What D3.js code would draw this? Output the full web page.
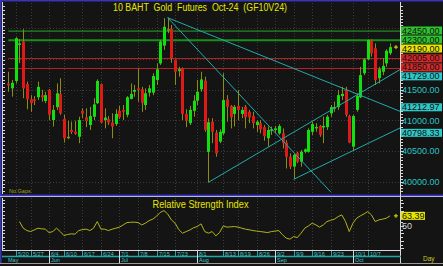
<!DOCTYPE html>
<html>
<head>
<meta charset="utf-8">
<script src="https://cdn.jsdelivr.net/npm/d3@7"></script>
<style>
html, body { margin: 0; padding: 0; background: #141414; }
svg { display: block; font-family: "Liberation Sans", Arial, sans-serif; }
</style>
</head>
<body>
<div id="chart"></div>
<script>
// daily candles, 16 May .. 8 Oct 2024
var opens  = [41600,41520,41640,42225,42280,41590,41345,41340,41375,41410,41315,41495,41005,41215,41430,41025,40735,40845,40815,40735,
              41155,41050,40925,41060,41280,41590,41005,41020,40965,40940,41155,41170,41090,41350,41465,41520,41505,41250,41450,41450,
              41655,41925,42215,42480,42485,41980,41800,41845,41105,40955,41155,41320,41505,41645,40490,40980,40800,40655,40790,41340,
              41235,41105,41235,41105,41220,41140,41070,40925,40955,40890,40710,40835,40845,40790,40790,40640,40410,40250,40475,40330,
              40490,40490,40815,40885,40910,40890,40890,41115,41190,41215,41395,41495,41070,40575,41170,41375,41765,41990,42295,42170,
              41685,41790,41925,42090];
var highs  = [41790,41655,42350,42320,42480,41630,41410,41395,41630,41495,41465,41510,41250,41600,41685,41090,40995,40980,40995,41060,
              41195,41195,41220,41360,41665,41600,41195,41070,41115,41180,41235,41250,41395,41600,41575,41845,41545,41520,41575,41765,
              41925,42305,42660,42667,42550,41990,41870,41860,41180,41235,41410,41655,41790,41710,41035,41035,40845,40855,41765,41410,
              41250,41250,41495,41220,41250,41170,41140,41005,41005,40925,40900,40900,40910,40940,40870,40680,40465,40465,40490,40520,
              40545,40870,40980,40955,40925,41060,41090,41250,41305,41495,41545,41545,41090,41090,41440,41870,42010,42315,42315,42250,
              41870,42010,42155,42250];
var lows   = [41465,41385,41600,41930,41360,41180,41140,41250,41330,41305,41280,41005,40900,41170,41090,40640,40695,40780,40765,40630,
              41035,40890,40845,41005,41265,40955,40870,40925,40710,40910,41025,41005,41050,41340,41385,41305,41140,41170,41385,41410,
              41575,41900,42145,42415,41935,41575,41710,41005,40890,40925,41060,41250,41465,40815,39995,40630,40410,40630,40765,40980,
              40870,40900,41005,41035,40870,40955,40870,40815,40790,40670,40575,40765,40790,40765,40545,40220,40210,40044,40305,40250,
              40465,40475,40765,40815,40735,40630,40845,41060,41140,41170,41330,41060,40630,40505,41140,41360,41735,41980,42035,41575,
              41600,41735,41870,42060];
var closes = [41570,41610,42335,42250,41520,41345,41280,41325,41545,41375,41410,41090,41170,41440,41115,40710,40735,40810,40785,41005,
              41110,40990,41070,41260,41640,40965,41045,40965,40900,41105,41050,41140,41375,41430,41495,41495,41285,41440,41520,41720,
              41830,42280,42520,42480,42010,41790,41830,41105,40995,41170,41320,41465,41665,40845,40970,40815,40465,40815,41330,41220,
              41050,41220,41170,41170,41050,41050,40955,40980,40855,40745,40845,40855,40870,40910,40630,40410,40250,40440,40330,40490,
              40530,40845,40940,40895,40765,40910,41060,41215,41215,41410,41430,41090,40640,41070,41395,41735,41990,42305,42090,41655,
              41830,41885,42130,42190];

// RSI, first value belongs to candle 3
var rsiStart = 3;
var rsi = [55.8,47,43.7,42.4,44.6,46.9,46,45.6,41,42.4,46.9,42.4,37,38.5,39.3,38.9,43.7,45,45.6,43.7,
           46.9,55.8,45.6,45.6,43.7,45.5,46.9,48.3,51.3,54.4,54.8,55,54.4,51.3,53.6,57.1,59,63,68,70.5,
           66,58,53.6,45,40.2,42.4,44.5,47.5,49.1,52.7,42.4,40.2,42.4,36.6,41,50,48.3,48.7,49.1,48.3,
           46.9,45.6,44.8,43.7,43,42.4,41.7,41,42.4,43,43.7,38,33.5,32.2,35.7,34.3,40.2,46.9,50,53.6,
           51.3,48.3,51.3,55.8,57.5,59,62.4,64.7,55.8,42.4,53.6,60.3,63.4,66,69.1,64.7,55.8,58,59,60.3,63.39];

var tickIdx = [2,6,11,15,20,25,30,35,40,45,51,58,62,67,72,77,82,87,93,97];
var tickLbl = ["5/20","5/27","6/4","6/10","6/17","6/24","7/1","7/8","7/15","7/23","8/1","8/13","8/19","8/26","9/2","9/9","9/16","9/23","10/1","10/7"];
var monthIdx = [-0.6,11,30,51,72,93];
var monthLbl = ["May","Jun","Jul","Aug","Sep","Oct"];

var priceTicks = [40000,40500,41000,41500];
var greenLevels = [42450,42300];
var redLevels = [42005,41850];
// trend lines: start candle, start price, candle, price at that candle, extend to axis
var trends = [[43,42667,103,41212.97,true],[43,42667,87,39838,false],[54,39995,103,41729,true],[77,40044,103,40798.33,true]];
var markers = [[42450,"42450.00","#2fc42f"],[42300,"42300.00","#2fc42f"],[42190,"42190.00","#e6e600"],
               [42005,"42005.00","#d42a2a"],[41850,"41850.00","#d42a2a"],[41729,"41729.00","#2ec8c8"],
               [41212.97,"41212.97","#2ec8c8"],[40798.33,"40798.33","#2ec8c8"]];

var W = 443, H = 266;
var svg = d3.select("#chart").append("svg").attr("width", W).attr("height", H);
svg.append("rect").attr("width", W).attr("height", H).attr("fill", "#141414");

var x = d3.scaleLinear().domain([-0.9, 105.7]).range([5, 400]);
var y = d3.scaleLinear().domain([40000, 42500]).range([182, 28]);
var yr = d3.scaleLinear().domain([19, 86]).range([249, 199]);
var pTop = 3, pBot = 194, rTop = 198, rBot = 250;

svg.append("clipPath").attr("id", "pclip").append("rect")
    .attr("x", 5).attr("y", pTop).attr("width", 395).attr("height", pBot - pTop);

// grid
var grid = svg.append("g").attr("stroke", "#3c3c3c").attr("stroke-dasharray", "1,2");
d3.range(40000, 42501, 500).forEach(function(v) {
    grid.append("line").attr("x1", 5).attr("x2", 400).attr("y1", Math.round(y(v)) + 0.5).attr("y2", Math.round(y(v)) + 0.5);
});
tickIdx.forEach(function(i) {
    var xx = Math.round(x(i)) + 0.5;
    grid.append("line").attr("x1", xx).attr("x2", xx).attr("y1", pTop).attr("y2", pBot);
    grid.append("line").attr("x1", xx).attr("x2", xx).attr("y1", rTop).attr("y2", rBot);
});

var plot = svg.append("g").attr("clip-path", "url(#pclip)");

// support / resistance levels
greenLevels.forEach(function(v, k) {
    plot.append("line").attr("x1", x(0)).attr("x2", 400).attr("y1", y(v)).attr("y2", y(v))
        .attr("stroke", k ? "#179017" : "#2aa82a").attr("stroke-width", k ? 2 : 1);
});
redLevels.forEach(function(v) {
    plot.append("line").attr("x1", x(0)).attr("x2", 400).attr("y1", Math.round(y(v)) + 0.5).attr("y2", Math.round(y(v)) + 0.5)
        .attr("stroke", "#b82020").attr("stroke-width", 1);
});

// candles
var wick = "#8c8c14";
d3.range(opens.length).forEach(function(i) {
    var cx = Math.round(x(i)) + 0.5;
    plot.append("line").attr("x1", cx).attr("x2", cx).attr("y1", y(highs[i])).attr("y2", y(lows[i]))
        .attr("stroke", wick).attr("stroke-width", 1);
    var top = y(Math.max(opens[i], closes[i])), bot = y(Math.min(opens[i], closes[i]));
    var col = closes[i] > opens[i] ? "#10e010" : closes[i] < opens[i] ? "#e01818" : wick;
    plot.append("rect").attr("x", cx - 1.5).attr("width", 3)
        .attr("y", top).attr("height", Math.max(1.5, bot - top)).attr("fill", col);
});

// trend lines
trends.forEach(function(t) {
    var slope = (t[3] - t[1]) / (t[2] - t[0]);
    var endI = t[4] ? 105.7 : t[2];
    plot.append("line").attr("x1", x(t[0])).attr("y1", y(t[1]))
        .attr("x2", x(endI)).attr("y2", y(t[1] + slope * (endI - t[0])))
        .attr("stroke", "#22aaaa").attr("stroke-width", 1);
});

// current value cross
function cross(g, cx, cy) {
    g.append("path").attr("d", "M" + (cx - 2) + "," + cy + "H" + (cx + 2) + "M" + cx + "," + (cy - 2) + "V" + (cy + 2))
        .attr("stroke", "#e6e600").attr("stroke-width", 1);
}
cross(svg, x(104.6), y(closes[closes.length - 1]));

// title
svg.append("text").attr("x", 200).attr("y", 10.5).attr("text-anchor", "middle")
    .attr("font-size", 10).attr("fill", "#e6e600").attr("textLength", 174).attr("lengthAdjust", "spacingAndGlyphs")
    .attr("xml:space", "preserve").text("10 BAHT  Gold  Futures  Oct-24  (GF10V24)");
svg.append("text").attr("x", 9).attr("y", 193).attr("font-size", 5.5).attr("fill", "#a0a020").text("No Gaps");

// RSI
var rsiLine = d3.line().x(function(d, k) { return x(k + rsiStart); }).y(function(d) { return yr(d); });
svg.append("path").datum(rsi).attr("d", rsiLine).attr("fill", "none").attr("stroke", "#b4b418").attr("stroke-width", 1);
cross(svg, x(104.6), yr(rsi[rsi.length - 1]));
svg.append("text").attr("x", 200.5).attr("y", 207.5).attr("text-anchor", "middle").attr("font-size", 10)
    .attr("fill", "#e6e600").attr("textLength", 96).attr("lengthAdjust", "spacingAndGlyphs").text("Relative Strength Index");

// panel separator and frame
svg.append("rect").attr("x", 0).attr("y", 0).attr("width", W).attr("height", 1.5).attr("fill", "#3535b5");
svg.append("rect").attr("x", 0).attr("y", 0).attr("width", 1.5).attr("height", 264).attr("fill", "#3535b5");
svg.append("rect").attr("x", 0).attr("y", 194.5).attr("width", W).attr("height", 1.5).attr("fill", "#3535b5");
svg.append("rect").attr("x", 0).attr("y", 196).attr("width", W).attr("height", 1).attr("fill", "#b8b8ee");

// axis lines and minor ticks
var ax = svg.append("g").attr("stroke", "#d8d8d8").attr("stroke-width", 1);
ax.append("line").attr("x1", 400.5).attr("x2", 400.5).attr("y1", 2).attr("y2", 263);
ax.append("line").attr("x1", 2.5).attr("x2", 2.5).attr("y1", 2).attr("y2", 194);
ax.append("line").attr("x1", 2.5).attr("x2", 2.5).attr("y1", 198).attr("y2", 250);
d3.range(39850, 42900, 50).forEach(function(v) {
    var yy = Math.round(y(v)) + 0.5;
    if (yy < pTop || yy > pBot) return;
    ax.append("line").attr("x1", 401).attr("x2", v % 500 ? 403 : 404).attr("y1", yy).attr("y2", yy);
});
d3.range(39850, 42900, 62.5).forEach(function(v) {
    var yy = Math.round(y(v)) + 0.5;
    if (yy < pTop + 2 || yy > pBot - 1) return;
    ax.append("line").attr("x1", 3).attr("x2", 5).attr("y1", yy).attr("y2", yy);
});
d3.range(20, 86, 5).forEach(function(v) {
    var yy = Math.round(yr(v)) + 0.5;
    ax.append("line").attr("x1", 401).attr("x2", v % 10 ? 403 : 404).attr("y1", yy).attr("y2", yy);
    ax.append("line").attr("x1", 3).attr("x2", 5).attr("y1", yy).attr("y2", yy);
});

// right labels; marker boxes pushed apart so they do not collide
var lab = svg.append("g").attr("font-size", 9);
priceTicks.forEach(function(v) {
    lab.append("text").attr("x", 402).attr("y", y(v)).attr("dy", "0.35em").attr("fill", "#28c4c4").text(d3.format(".2f")(v));
});
var pos = markers.map(function(m) { return { m: m, p: y(m[0]) }; });
pos.sort(function(a, b) { return a.p - b.p; });
for (var it = 0; it < 60; it++) {
    for (var k = 1; k < pos.length; k++) {
        var gap = pos[k].p - pos[k - 1].p;
        if (gap < 9) { pos[k - 1].p -= (9 - gap) / 2; pos[k].p += (9 - gap) / 2; }
    }
}
pos.forEach(function(d) {
    lab.append("rect").attr("x", 401).attr("y", d.p - 4).attr("width", 41).attr("height", 8).attr("fill", d.m[2]);
    lab.append("text").attr("x", 402).attr("y", d.p).attr("dy", "0.35em").attr("fill", "#101010").text(d.m[1]);
});
var lastR = rsi[rsi.length - 1];
lab.append("rect").attr("x", 401).attr("y", yr(lastR) - 4).attr("width", 24).attr("height", 8).attr("fill", "#e6e600");
lab.append("text").attr("x", 402).attr("y", yr(lastR)).attr("dy", "0.35em").attr("fill", "#101010").text(d3.format(".2f")(lastR));
lab.append("text").attr("x", 402).attr("y", yr(50)).attr("dy", "0.35em").attr("fill", "#d8d8d8").text("50");

// date axis
var dx = svg.append("g");
dx.append("line").attr("x1", 2).attr("x2", 401).attr("y1", 250.5).attr("y2", 250.5).attr("stroke", "#d8d8d8");
dx.append("line").attr("x1", 2).attr("x2", 401).attr("y1", 256.5).attr("y2", 256.5).attr("stroke", "#20a8a8").attr("stroke-width", 1.5);
dx.append("line").attr("x1", 0).attr("x2", W).attr("y1", 263.5).attr("y2", 263.5).attr("stroke", "#9a9a9a");
tickIdx.forEach(function(i, k) {
    var xx = Math.round(x(i)) + 0.5;
    dx.append("line").attr("x1", xx).attr("x2", xx).attr("y1", 251).attr("y2", 256).attr("stroke", "#20a8a8");
    dx.append("text").attr("x", xx + 1.5).attr("y", 255.5).attr("font-size", 5.5).attr("fill", "#40c8c8").text(tickLbl[k]);
});
monthIdx.forEach(function(i, k) {
    var xx = Math.round(x(i)) + 0.5;
    if (k) dx.append("line").attr("x1", xx).attr("x2", xx).attr("y1", 251).attr("y2", 263).attr("stroke", "#d8d8d8");
    dx.append("text").attr("x", xx + 1.5).attr("y", 262).attr("font-size", 5.5).attr("fill", "#40c8c8").text(monthLbl[k]);
});
svg.append("text").attr("x", 423).attr("y", 261).attr("font-size", 6.5).attr("fill", "#c8c820").text("Day");
</script>
</body>
</html>
